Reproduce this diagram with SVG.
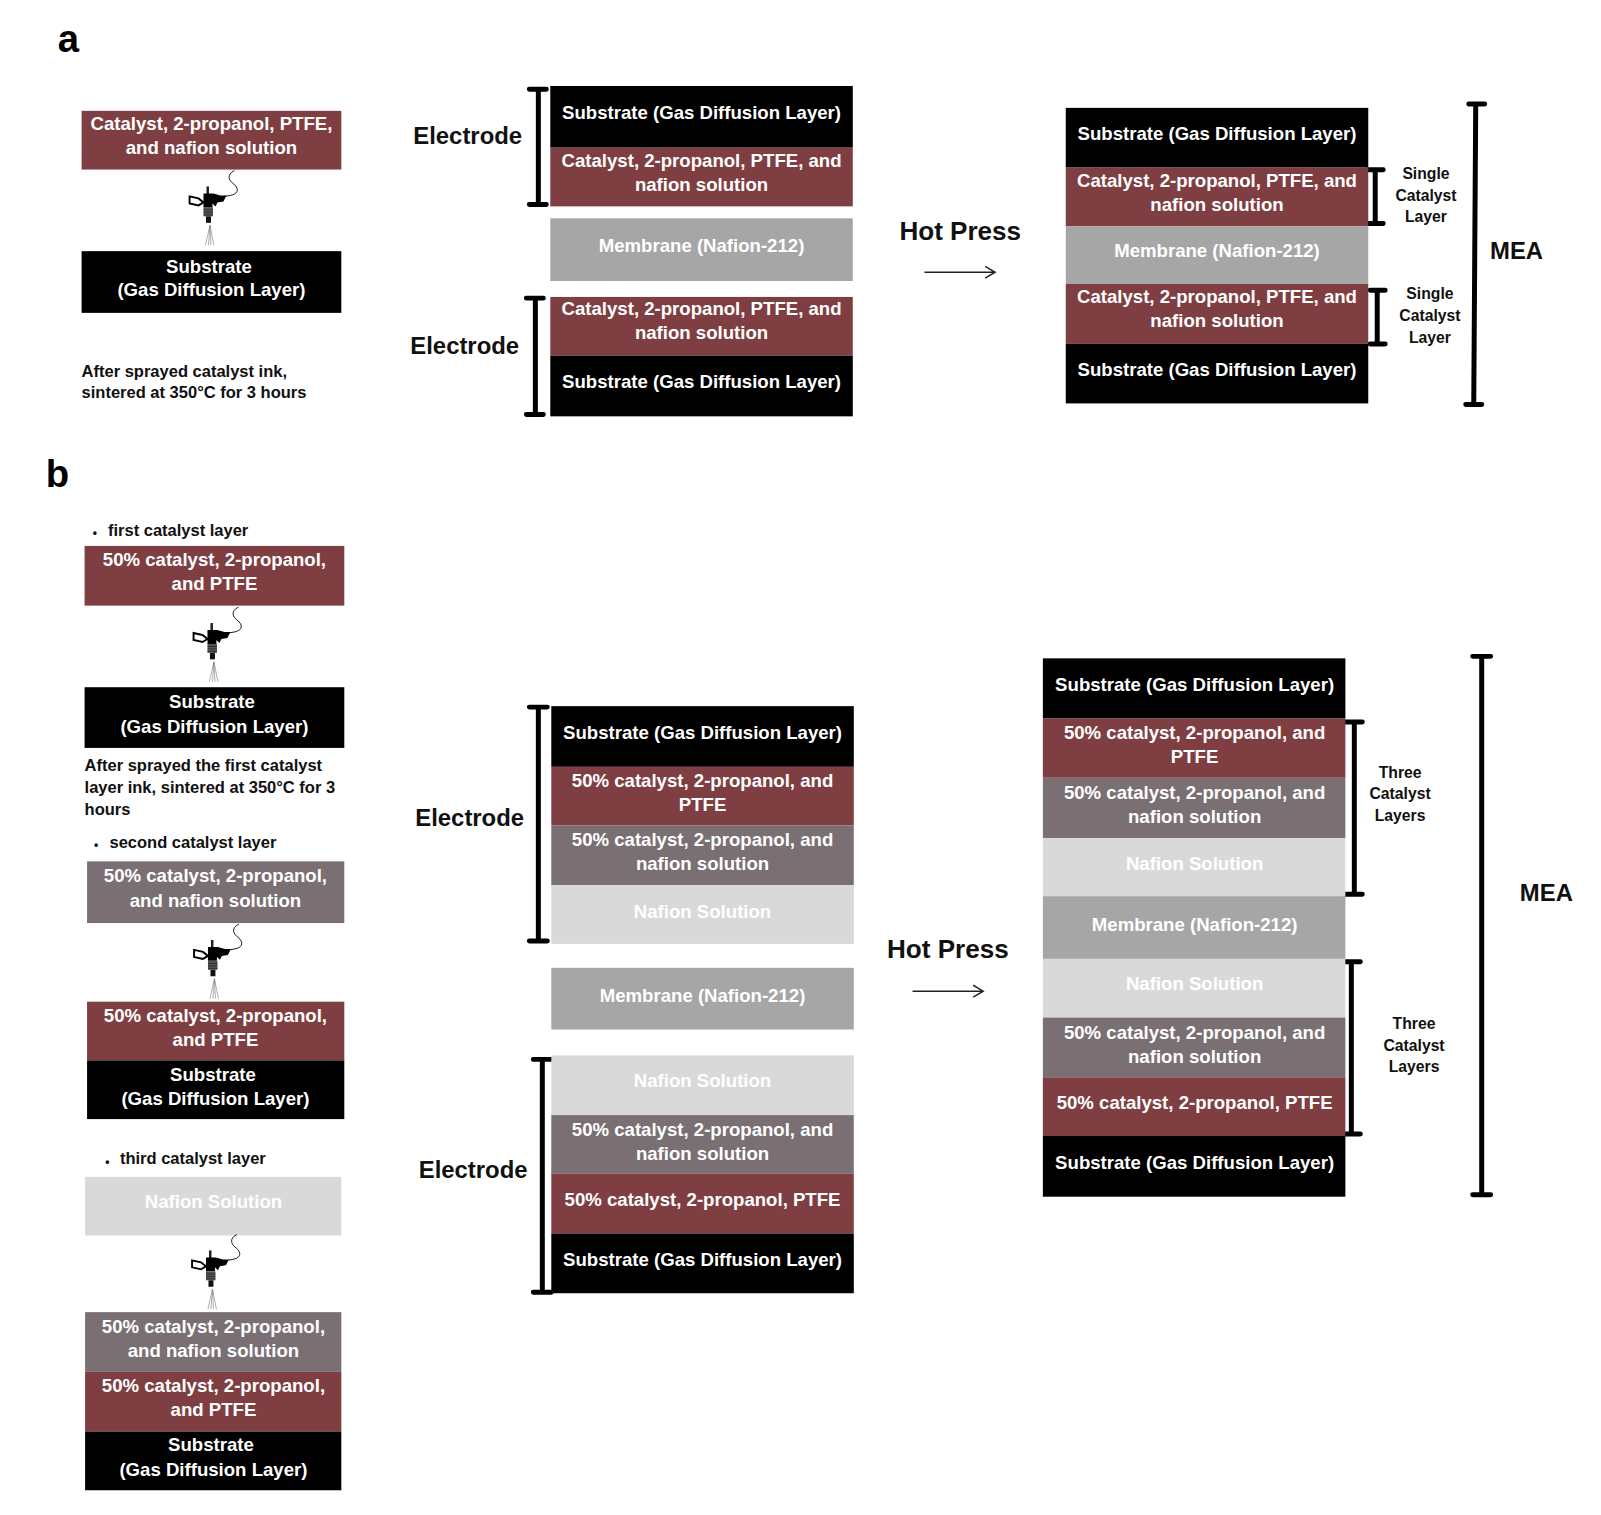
<svg xmlns="http://www.w3.org/2000/svg" xmlns:xlink="http://www.w3.org/1999/xlink" width="1601" height="1515" viewBox="0 0 1601 1515">
<style>
text{font-family:"Liberation Sans",Arial,sans-serif;font-weight:700;dominant-baseline:central}
.w{fill:#fff;font-size:18.7px;text-anchor:middle}
.k{fill:#111;font-size:16.6px}
.c{text-anchor:middle;font-size:15.8px}
.dot{fill:#111;font-size:12px;text-anchor:middle}
.h{fill:#111;font-size:24px;text-anchor:middle}
.p{fill:#111;font-size:26.2px;text-anchor:middle}
.L{fill:#000;font-size:38.5px}
.r{fill:#7f3f42}.b{fill:#000}.m{fill:#a6a6a6}.d{fill:#7a7074}.l{fill:#d9d9d9}
.br{fill:none;stroke:#000;stroke-width:5;stroke-linecap:round}
.ar{fill:none;stroke:#222;stroke-width:1.5}
</style>
<defs>
<g id="gun">
<path d="M74,10C66,14 68,20 74,24C80,30 76,34 70,35C66,36 62,36 58,37" fill="none" stroke="#000" stroke-width=".9"/>
<rect x="46" y="26" width="2.500" height="8" fill="#222"/>
<path d="M43,33L53,33L60,35L66,35L63,41L57,42L55,46L52,43L52,47L43,47Z" fill="#000"/>
<path d="M29,36L38,38L43,42L38,45L29,43Z" fill="none" stroke="#000" stroke-width="1.900"/>
<rect x="43" y="47" width="9.500" height="9" fill="#555"/>
<path d="M43,49.500H52.500M43,52H52.500M43,54.500H52.500" stroke="#222" stroke-width=".7"/>
<rect x="45.500" y="56" width="5" height="6.500" fill="#111"/>
<path d="M49.500,65L45,85M49.500,65L48,85M49.500,65L50.500,85M49.500,65L53.500,85" stroke="#777" stroke-width=".6" fill="none"/>
</g>
</defs>
<g transform="translate(0 -.4) scale(.9951)">
<text class="L" x="58" y="39">a</text>
<text class="L" x="46" y="476">b</text>

<g id="connectors">
<path class="br" d="M532,90H549M541,90V206M532,206H549"/>
<path class="br" d="M529,300H546M538,300V417M529,417H546"/>
<path class="br" d="M1375,171H1390M1382,171V225M1375,225H1390"/>
<path class="br" d="M1377,292H1392M1384,292V346M1377,346H1392"/>
<path class="br" d="M1476,105H1492M1483,105L1481,407M1473,407H1489"/>
<path class="ar" d="M929,274H1000M990,268L1000,274L990,280"/>
<path class="br" d="M532,711H550M541,711V946M532,946H550"/>
<path class="br" d="M536,1065H554M545,1065V1299M536,1299H554"/>
<path class="br" d="M1352,726H1369M1361,726V899M1352,899H1369"/>
<path class="br" d="M1350,967H1367M1358,967V1140M1350,1140H1367"/>
<path class="br" d="M1480,660H1498M1489,660V1201M1480,1201H1498"/>
<path class="ar" d="M917,996.5H988M978,990.5L988,996.5L978,1002.5"/>
</g>

<g id="panel-a" transform="translate(0 .8)">
<g id="a-ink"><rect class="r" x="82" y="111" width="261" height="59"/><text class="w" x="212.500" y="124">Catalyst, 2-propanol, PTFE,</text><text class="w" x="212.500" y="148">and nafion solution</text></g>
<use id="a-gun" xlink:href="#gun" href="#gun" x="161.500" y="161"/>
<g id="a-substrate"><rect class="b" x="82" y="252" width="261" height="62"/><text class="w" x="210" y="267">Substrate</text><text class="w" x="212.500" y="291">(Gas Diffusion Layer)</text></g>
<g id="a-note"><text class="k" x="82" y="372">After sprayed catalyst ink,</text><text class="k" x="82" y="393.500">sintered at 350°C for 3 hours</text></g>

<g id="a-el1-sub"><rect class="b" x="553" y="86" width="304" height="62"/><text class="w" x="705" y="113">Substrate (Gas Diffusion Layer)</text></g>
<g id="a-el1-cat"><rect class="r" x="553" y="148" width="304" height="59"/><text class="w" x="705" y="161">Catalyst, 2-propanol, PTFE, and</text><text class="w" x="705" y="185">nafion solution</text></g>
<g id="a-membrane"><rect class="m" x="553" y="219" width="304" height="63"/><text class="w" x="705" y="246">Membrane (Nafion-212)</text></g>
<g id="a-el2-cat"><rect class="r" x="553" y="298" width="304" height="59"/><text class="w" x="705" y="310">Catalyst, 2-propanol, PTFE, and</text><text class="w" x="705" y="334">nafion solution</text></g>
<g id="a-el2-sub"><rect class="b" x="553" y="357" width="304" height="61"/><text class="w" x="705" y="383">Substrate (Gas Diffusion Layer)</text></g>
<g id="a-label-el1"><text class="h" x="470" y="136">Electrode</text></g>
<g id="a-label-el2"><text class="h" x="467" y="347">Electrode</text></g>
<g id="a-hot"><text class="p" x="965" y="232">Hot Press</text></g>

<g id="a-mea-sub1"><rect class="b" x="1071" y="108" width="304" height="60"/><text class="w" x="1223" y="134">Substrate (Gas Diffusion Layer)</text></g>
<g id="a-mea-cat1"><rect class="r" x="1071" y="168" width="304" height="59"/><text class="w" x="1223" y="181">Catalyst, 2-propanol, PTFE, and</text><text class="w" x="1223" y="205">nafion solution</text></g>
<g id="a-mea-mem"><rect class="m" x="1071" y="227" width="304" height="58"/><text class="w" x="1223" y="251">Membrane (Nafion-212)</text></g>
<g id="a-mea-cat2"><rect class="r" x="1071" y="285" width="304" height="60"/><text class="w" x="1223" y="298">Catalyst, 2-propanol, PTFE, and</text><text class="w" x="1223" y="322">nafion solution</text></g>
<g id="a-mea-sub2"><rect class="b" x="1071" y="345" width="304" height="60"/><text class="w" x="1223" y="371">Substrate (Gas Diffusion Layer)</text></g>
<g id="a-scl1"><text class="k c" x="1433" y="174">Single</text><text class="k c" x="1433" y="196">Catalyst</text><text class="k c" x="1433" y="217">Layer</text></g>
<g id="a-scl2"><text class="k c" x="1437" y="295">Single</text><text class="k c" x="1437" y="317">Catalyst</text><text class="k c" x="1437" y="339">Layer</text></g>
<g id="a-mea"><text class="h" x="1524" y="251">MEA</text></g>
</g>

<g id="b-t1"><text class="dot" x="95.400" y="536">•</text><text class="k" x="108.500" y="533.500">first catalyst layer</text></g>
<g id="b1-top"><rect class="r" x="85" y="549" width="261" height="60"/><text class="w" x="215.500" y="562.500">50% catalyst, 2-propanol,</text><text class="w" x="215.500" y="586.500">and PTFE</text></g>
<use id="b1-gun" xlink:href="#gun" href="#gun" x="165.500" y="600.500"/>
<g id="b1-sub"><rect class="b" x="85" y="691" width="261" height="61"/><text class="w" x="213" y="705">Substrate</text><text class="w" x="215.500" y="730">(Gas Diffusion Layer)</text></g>
<g id="b-note"><text class="k" x="85" y="769">After sprayed the first catalyst</text><text class="k" x="85" y="791">layer ink, sintered at 350°C for 3</text><text class="k" x="85" y="813">hours</text></g>
<g id="b-t2"><text class="dot" x="96.500" y="850">•</text><text class="k" x="110" y="847">second catalyst layer</text></g>
<g id="b2-top"><rect class="d" x="87.500" y="866" width="258.500" height="62"/><text class="w" x="216.500" y="880">50% catalyst, 2-propanol,</text><text class="w" x="216.500" y="905">and nafion solution</text></g>
<use id="b2-gun" xlink:href="#gun" href="#gun" x="166" y="919"/>
<g id="b2-cat"><rect class="r" x="87.500" y="1007" width="258.500" height="59"/><text class="w" x="216.500" y="1021">50% catalyst, 2-propanol,</text><text class="w" x="216.500" y="1045">and PTFE</text></g>
<g id="b2-sub"><rect class="b" x="87.500" y="1066" width="258.500" height="59"/><text class="w" x="214" y="1080">Substrate</text><text class="w" x="216.500" y="1104">(Gas Diffusion Layer)</text></g>
<g id="b-t3"><text class="dot" x="107.800" y="1168">•</text><text class="k" x="120.500" y="1164.500">third catalyst layer</text></g>
<g id="b3-top"><rect class="l" x="85.500" y="1183" width="257.500" height="59"/><text class="w" x="214.500" y="1208">Nafion Solution</text></g>
<use id="b3-gun" xlink:href="#gun" href="#gun" x="164" y="1231"/>
<g id="b3-dark"><rect class="d" x="85.500" y="1319" width="257.500" height="60"/><text class="w" x="214.500" y="1333">50% catalyst, 2-propanol,</text><text class="w" x="214.500" y="1358">and nafion solution</text></g>
<g id="b3-cat"><rect class="r" x="85.500" y="1379" width="257.500" height="60"/><text class="w" x="214.500" y="1393">50% catalyst, 2-propanol,</text><text class="w" x="214.500" y="1417">and PTFE</text></g>
<g id="b3-sub"><rect class="b" x="85.500" y="1439" width="257.500" height="59"/><text class="w" x="212" y="1452">Substrate</text><text class="w" x="214.500" y="1477">(Gas Diffusion Layer)</text></g>

<g id="b-el1-sub"><rect class="b" x="554" y="710" width="304" height="61"/><text class="w" x="706" y="737">Substrate (Gas Diffusion Layer)</text></g>
<g id="b-el1-cat"><rect class="r" x="554" y="771" width="304" height="59"/><text class="w" x="706" y="784.500">50% catalyst, 2-propanol, and</text><text class="w" x="706" y="808.500">PTFE</text></g>
<g id="b-el1-dark"><rect class="d" x="554" y="830" width="304" height="60"/><text class="w" x="706" y="844.500">50% catalyst, 2-propanol, and</text><text class="w" x="706" y="868.500">nafion solution</text></g>
<g id="b-el1-naf"><rect class="l" x="554" y="890" width="304" height="59"/><text class="w" x="706" y="916">Nafion Solution</text></g>
<g id="b-membrane"><rect class="m" x="554" y="973" width="304" height="62"/><text class="w" x="706" y="1000.500">Membrane (Nafion-212)</text></g>
<g id="b-el2-naf"><rect class="l" x="554" y="1061" width="304" height="60"/><text class="w" x="706" y="1086.500">Nafion Solution</text></g>
<g id="b-el2-dark"><rect class="d" x="554" y="1121" width="304" height="59"/><text class="w" x="706" y="1135">50% catalyst, 2-propanol, and</text><text class="w" x="706" y="1160">nafion solution</text></g>
<g id="b-el2-cat"><rect class="r" x="554" y="1180" width="304" height="60"/><text class="w" x="706" y="1205.500">50% catalyst, 2-propanol, PTFE</text></g>
<g id="b-el2-sub"><rect class="b" x="554" y="1240" width="304" height="60"/><text class="w" x="706" y="1266">Substrate (Gas Diffusion Layer)</text></g>
<g id="b-label-el1"><text class="h" x="472" y="822">Electrode</text></g>
<g id="b-label-el2"><text class="h" x="475.500" y="1176">Electrode</text></g>
<g id="b-hot"><text class="p" x="952.500" y="954.500">Hot Press</text></g>

<g id="b-mea-sub1"><rect class="b" x="1048" y="662" width="304" height="60.500"/><text class="w" x="1200.500" y="688.500">Substrate (Gas Diffusion Layer)</text></g>
<g id="b-mea-cat1"><rect class="r" x="1048" y="722.500" width="304" height="59.500"/><text class="w" x="1200.500" y="736.500">50% catalyst, 2-propanol, and</text><text class="w" x="1200.500" y="760.500">PTFE</text></g>
<g id="b-mea-dark1"><rect class="d" x="1048" y="782" width="304" height="60.500"/><text class="w" x="1200.500" y="796.500">50% catalyst, 2-propanol, and</text><text class="w" x="1200.500" y="820.500">nafion solution</text></g>
<g id="b-mea-naf1"><rect class="l" x="1048" y="842.500" width="304" height="58.500"/><text class="w" x="1200.500" y="868">Nafion Solution</text></g>
<g id="b-mea-mem"><rect class="m" x="1048" y="901" width="304" height="63"/><text class="w" x="1200.500" y="929">Membrane (Nafion-212)</text></g>
<g id="b-mea-naf2"><rect class="l" x="1048" y="964" width="304" height="59"/><text class="w" x="1200.500" y="989">Nafion Solution</text></g>
<g id="b-mea-dark2"><rect class="d" x="1048" y="1023" width="304" height="60"/><text class="w" x="1200.500" y="1037.500">50% catalyst, 2-propanol, and</text><text class="w" x="1200.500" y="1062">nafion solution</text></g>
<g id="b-mea-cat2"><rect class="r" x="1048" y="1083" width="304" height="59"/><text class="w" x="1200.500" y="1108">50% catalyst, 2-propanol, PTFE</text></g>
<g id="b-mea-sub2"><rect class="b" x="1048" y="1142" width="304" height="61"/><text class="w" x="1200.500" y="1168.500">Substrate (Gas Diffusion Layer)</text></g>
<g id="b-tcl1"><text class="k c" x="1407" y="777">Three</text><text class="k c" x="1407" y="798">Catalyst</text><text class="k c" x="1407" y="820">Layers</text></g>
<g id="b-tcl2"><text class="k c" x="1421" y="1029">Three</text><text class="k c" x="1421" y="1051">Catalyst</text><text class="k c" x="1421" y="1072">Layers</text></g>
<g id="b-mea"><text class="h" x="1554" y="897">MEA</text></g>
</g>
</svg>
